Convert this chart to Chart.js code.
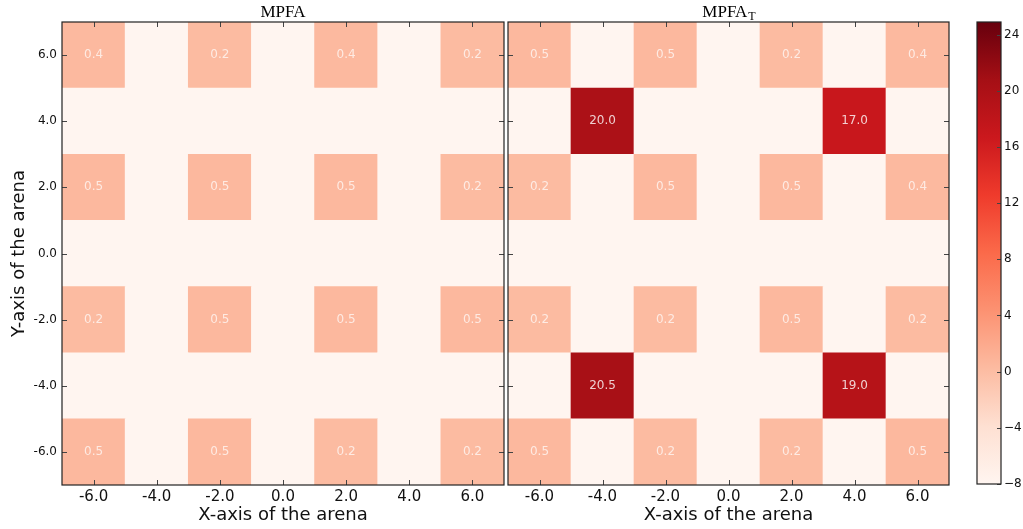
<!DOCTYPE html>
<html>
<head>
<meta charset="utf-8">
<script src="https://cdn.jsdelivr.net/npm/chart.js@4/dist/chart.umd.min.js"></script>
<style>
body{margin:0;background:#fff;}
#wrap{position:relative;width:1023px;height:529px;overflow:hidden;}
.c{position:absolute;top:0;height:529px;}
</style>
</head>
<body>
<div id="wrap">
  <div class="c" style="left:0;width:506px"><canvas id="left"></canvas></div>
  <div class="c" style="left:506px;width:446px"><canvas id="right"></canvas></div>
  <div class="c" style="left:960px;width:63px"><canvas id="cbar"></canvas></div>
</div>
<script>
// grid positions (cell centres) and tick values
const xCenters=[-6,-4,-2,0,2,4,6];
const yCenters=[6,4,2,0,-2,-4,-6];
const axisTicks=[-6,-4,-2,0,2,4,6];
const cbarTicks=[-8,-4,0,4,8,12,16,20,24];
const vmin=-8, vmax=24.9;

// MPFA values, rows from top (y=6) to bottom (y=-6); null = empty cell
const mpfaRows=[
  [0.4,null,0.2,null,0.4,null,0.2],
  [null,null,null,null,null,null,null],
  [0.5,null,0.5,null,0.5,null,0.2],
  [null,null,null,null,null,null,null],
  [0.2,null,0.5,null,0.5,null,0.5],
  [null,null,null,null,null,null,null],
  [0.5,null,0.5,null,0.2,null,0.2]
];
// MPFA_T values
const mpfaTRows=[
  [0.5,null,0.5,null,0.2,null,0.4],
  [null,20.0,null,null,null,17.0,null],
  [0.2,null,0.5,null,0.5,null,0.4],
  [null,null,null,null,null,null,null],
  [0.2,null,0.2,null,0.5,null,0.2],
  [null,20.5,null,null,null,19.0,null],
  [0.5,null,0.2,null,0.2,null,0.5]
];

const reds=["#fff5f0","#fee0d2","#fcbba1","#fc9272","#fb6a4a","#ef3b2c","#cb181d","#a50f15","#67000d"];
function hex2rgb(h){return [parseInt(h.substr(1,2),16),parseInt(h.substr(3,2),16),parseInt(h.substr(5,2),16)];}
function cmap(v){
    if(v===null) return reds[0];
    let t=(v-vmin)/(vmax-vmin);
    t=Math.max(0,Math.min(1,t));
    const p=t*(reds.length-1);
    const i=Math.min(Math.floor(p),reds.length-2);
    const f=p-i;
    const a=hex2rgb(reds[i]),b=hex2rgb(reds[i+1]);
    return 'rgb('+a.map((c,k)=>Math.round(c+(b[k]-c)*f)).join(',')+')';
}

function buildCells(rows){
    const cells=[];
    rows.forEach((row,r)=>{
        row.forEach((v,c)=>{
            cells.push({x:xCenters[c],y:[yCenters[r]-1,yCenters[r]+1],v:v,cy:yCenters[r]});
        });
    });
    return cells;
}

const frame={
    id:'frame',
    beforeDatasetsDraw(chart){
        const a=chart.chartArea,ctx=chart.ctx;
        ctx.save();ctx.fillStyle=reds[0];
        ctx.fillRect(a.left,a.top,a.right-a.left,a.bottom-a.top);
        ctx.restore();
    },
    afterDatasetsDraw(chart){
        const a=chart.chartArea,ctx=chart.ctx;
        const ds=chart.data.datasets[0];
        ctx.save();
        ctx.font='12px "DejaVu Sans"';
        ctx.textAlign='center';ctx.textBaseline='middle';
        ds.data.forEach(d=>{
            if(d.v===null) return;
            const px=chart.scales.x.getPixelForValue(d.x);
            const py=chart.scales.y.getPixelForValue(d.cy);
            ctx.fillStyle=d.v>10?'rgba(255,255,255,0.8)':'rgba(255,255,255,0.7)';
            ctx.fillText(d.v.toFixed(1),px,py);
        });
        // inward ticks on all four sides
        ctx.strokeStyle='#444';ctx.lineWidth=1;
        ctx.beginPath();
        axisTicks.forEach(t=>{
            const px=Math.round(chart.scales.x.getPixelForValue(t))+0.5;
            ctx.moveTo(px,a.bottom);ctx.lineTo(px,a.bottom-5);
            ctx.moveTo(px,a.top);ctx.lineTo(px,a.top+5);
            const py=Math.round(chart.scales.y.getPixelForValue(t))+0.5;
            ctx.moveTo(a.left,py);ctx.lineTo(a.left+5,py);
            ctx.moveTo(a.right,py);ctx.lineTo(a.right-5,py);
        });
        ctx.stroke();
        ctx.strokeStyle='#222';ctx.lineWidth=1.2;
        ctx.strokeRect(a.left,a.top,a.right-a.left,a.bottom-a.top);
        // title with optional subscript
        const o=chart.options.plugins.frameTitle;
        const cx=(a.left+a.right)/2;
        ctx.fillStyle='#000';ctx.textBaseline='alphabetic';
        ctx.font='17px "Liberation Serif"';
        const w1=ctx.measureText(o.text).width;
        ctx.font='12px "Liberation Serif"';
        const w2=o.sub?ctx.measureText(o.sub).width:0;
        let x0=cx-(w1+w2)/2;
        ctx.textAlign='left';
        ctx.font='17px "Liberation Serif"';
        ctx.fillText(o.text,x0,17);
        if(o.sub){ctx.font='12px "Liberation Serif"';ctx.fillText(o.sub,x0+w1+1,20);}
        ctx.restore();
    }
};

function heatConfig(rows,showY,title,sub,pad){
    return {
        type:'bar',
        data:{datasets:[{
            data:buildCells(rows),
            backgroundColor:c=>cmap(c.raw?c.raw.v:null),
            borderWidth:0,
            barPercentage:1,categoryPercentage:1,grouped:false
        }]},
        options:{
            responsive:true,maintainAspectRatio:false,animation:false,
            layout:{padding:pad},
            plugins:{legend:{display:false},tooltip:{enabled:false},frameTitle:{text:title,sub:sub}},
            scales:{
                x:{type:'linear',min:-7,max:7,offset:false,
                   afterBuildTicks:s=>{s.ticks=axisTicks.map(v=>({value:v}));},
                   afterFit:s=>{s.height=44;},
                   grid:{display:false,drawTicks:false},border:{display:false},
                   ticks:{padding:3,color:'#111',font:{family:'DejaVu Sans',size:15},callback:v=>v.toFixed(1)},
                   title:{display:true,text:'X-axis of the arena',color:'#111',font:{family:'DejaVu Sans',size:18},padding:{top:0,bottom:3}}},
                y:{type:'linear',min:-7,max:7,display:showY,
                   afterBuildTicks:s=>{s.ticks=axisTicks.map(v=>({value:v}));},
                   afterFit:s=>{if(showY) s.width=62;},
                   grid:{display:false,drawTicks:false},border:{display:false},
                   ticks:{padding:5,color:'#111',font:{family:'DejaVu Sans',size:12},callback:v=>v.toFixed(1)},
                   title:{display:true,text:'Y-axis of the arena',color:'#111',font:{family:'DejaVu Sans',size:18},padding:{top:9,bottom:0}}}
            }
        },
        plugins:[frame]
    };
}

new Chart(document.getElementById('left'),heatConfig(mpfaRows,true,'MPFA','',{left:0,right:2,top:22,bottom:0}));
new Chart(document.getElementById('right'),heatConfig(mpfaTRows,false,'MPFA','T',{left:2,right:3,top:22,bottom:0}));

const cbarFrame={
    id:'cbarFrame',
    afterDatasetsDraw(chart){
        const a=chart.chartArea,ctx=chart.ctx;
        ctx.save();
        ctx.strokeStyle='#444';ctx.lineWidth=1;ctx.beginPath();
        cbarTicks.forEach(t=>{
            const py=Math.round(chart.scales.y.getPixelForValue(t))+0.5;
            ctx.moveTo(a.right,py);ctx.lineTo(a.right-4,py);
        });
        ctx.stroke();
        ctx.strokeStyle='#222';ctx.lineWidth=1.2;
        ctx.strokeRect(a.left,a.top,a.right-a.left,a.bottom-a.top);
        ctx.restore();
    }
};

new Chart(document.getElementById('cbar'),{
    type:'bar',
    data:{labels:[''],datasets:[{
        data:[[vmin,vmax]],
        borderWidth:0,barPercentage:1,categoryPercentage:1,
        backgroundColor:c=>{
            const ch=c.chart;
            if(!ch.chartArea) return reds[4];
            const ys=ch.scales.y;
            const g=ch.ctx.createLinearGradient(0,ys.getPixelForValue(vmin),0,ys.getPixelForValue(vmax));
            reds.forEach((h,i)=>g.addColorStop(i/(reds.length-1),h));
            return g;
        }
    }]},
    options:{
        responsive:true,maintainAspectRatio:false,animation:false,
        layout:{padding:{left:17,right:0,top:22,bottom:45}},
        plugins:{legend:{display:false},tooltip:{enabled:false}},
        scales:{
            x:{display:false},
            y:{position:'right',min:vmin,max:vmax,
               afterBuildTicks:s=>{s.ticks=cbarTicks.map(v=>({value:v}));},
               afterFit:s=>{s.width=22;},
               grid:{display:false,drawTicks:false},border:{display:false},
               ticks:{padding:3,color:'#111',font:{family:'DejaVu Sans',size:12},
                      callback:v=>v<0?'\u2212'+Math.abs(v):String(v)}}
        }
    },
    plugins:[cbarFrame]
});
</script>
</body>
</html>
